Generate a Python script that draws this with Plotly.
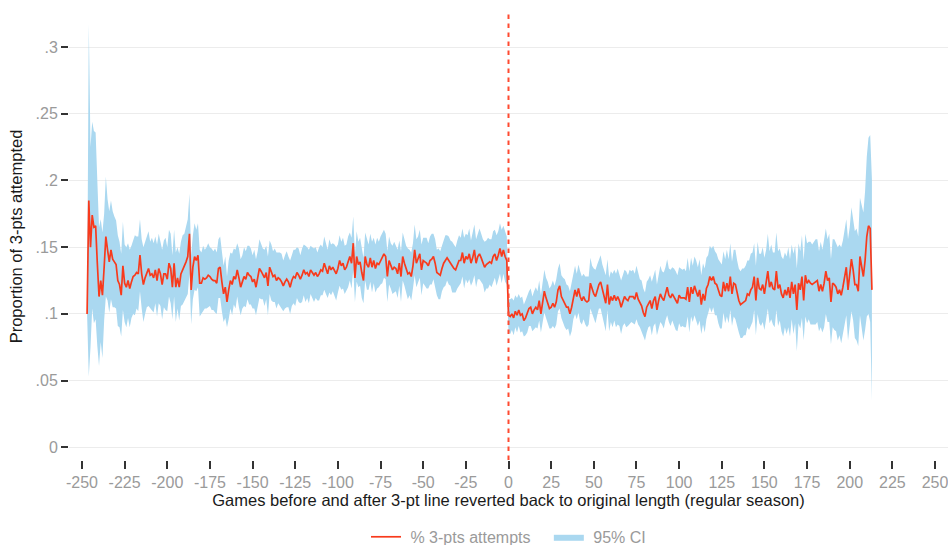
import plotly.graph_objects as go

# Proportion of 3-pt attempts, games before the reversion (-247 .. -1)
share_pre = [
    0.100, 0.185, 0.150, 0.174, 0.165, 0.166, 0.138, 0.113, 0.125, 0.114,
    0.135, 0.158, 0.148, 0.139, 0.148, 0.141, 0.139, 0.137, 0.125, 0.122,
    0.114, 0.136, 0.123, 0.120, 0.125, 0.119, 0.124, 0.128, 0.129, 0.131,
    0.130, 0.144, 0.130, 0.122, 0.127, 0.131, 0.134, 0.129, 0.130, 0.127,
    0.133, 0.125, 0.134, 0.130, 0.122, 0.130, 0.130, 0.126, 0.138, 0.134,
    0.120, 0.138, 0.120, 0.127, 0.120, 0.130, 0.133, 0.135, 0.139, 0.143,
    0.160, 0.118, 0.135, 0.143, 0.140, 0.144, 0.123, 0.123, 0.127, 0.126,
    0.127, 0.129, 0.128, 0.126, 0.125, 0.125, 0.123, 0.134, 0.135, 0.124,
    0.115, 0.120, 0.109, 0.118, 0.125, 0.122, 0.128, 0.126, 0.133, 0.127,
    0.120, 0.124, 0.128, 0.126, 0.131, 0.129, 0.128, 0.124, 0.126, 0.120,
    0.127, 0.134, 0.132, 0.130, 0.127, 0.131, 0.121, 0.135, 0.131, 0.128,
    0.129, 0.125, 0.127, 0.126, 0.124, 0.121, 0.124, 0.126, 0.124, 0.120,
    0.125, 0.128, 0.127, 0.131, 0.129, 0.126, 0.129, 0.133, 0.130, 0.131,
    0.128, 0.133, 0.131, 0.129, 0.131, 0.128, 0.130, 0.133, 0.132, 0.138,
    0.134, 0.130, 0.136, 0.133, 0.135, 0.133, 0.130, 0.134, 0.140, 0.136,
    0.138, 0.133, 0.135, 0.139, 0.143, 0.138, 0.153, 0.127, 0.143, 0.137,
    0.139, 0.131, 0.125, 0.143, 0.137, 0.135, 0.142, 0.135, 0.140, 0.134,
    0.138, 0.137, 0.140, 0.142, 0.145, 0.143, 0.128, 0.140, 0.136, 0.133,
    0.135, 0.134, 0.130, 0.138, 0.128, 0.143, 0.138, 0.133, 0.130, 0.131,
    0.128, 0.136, 0.148, 0.138, 0.141, 0.145, 0.133, 0.140, 0.139, 0.138,
    0.136, 0.140, 0.141, 0.143, 0.138, 0.131, 0.130, 0.129, 0.134, 0.138,
    0.140, 0.142, 0.140, 0.138, 0.135, 0.134, 0.133, 0.137, 0.140, 0.140,
    0.146, 0.138, 0.143, 0.141, 0.145, 0.138, 0.142, 0.148, 0.138, 0.143,
    0.145, 0.142, 0.139, 0.135, 0.137, 0.138, 0.139, 0.138, 0.143, 0.145,
    0.140, 0.144, 0.149, 0.143, 0.148, 0.143, 0.140,
]

# Games after the reversion (0 .. 213)
share_post = [
    0.099, 0.098, 0.100, 0.097, 0.102, 0.099, 0.103, 0.099, 0.100, 0.095,
    0.097, 0.100, 0.104, 0.105, 0.100, 0.103, 0.105, 0.103, 0.110, 0.100,
    0.110, 0.117, 0.112, 0.108, 0.104, 0.105, 0.108, 0.105, 0.109, 0.118,
    0.121, 0.113, 0.110, 0.108, 0.105, 0.105, 0.100, 0.105, 0.113, 0.118,
    0.113, 0.119, 0.113, 0.110, 0.113, 0.110, 0.109, 0.110, 0.123, 0.118,
    0.115, 0.113, 0.118, 0.122, 0.124, 0.118, 0.112, 0.108, 0.122, 0.107,
    0.113, 0.110, 0.114, 0.110, 0.113, 0.110, 0.105, 0.110, 0.113, 0.111,
    0.110, 0.113, 0.113, 0.113, 0.111, 0.116, 0.111, 0.108, 0.106, 0.101,
    0.098, 0.105, 0.108, 0.110, 0.104, 0.110, 0.113, 0.103, 0.110, 0.115,
    0.112, 0.110, 0.115, 0.120, 0.114, 0.112, 0.115, 0.113, 0.110, 0.108,
    0.114, 0.112, 0.112, 0.112, 0.111, 0.120, 0.109, 0.120, 0.115, 0.121,
    0.117, 0.113, 0.118, 0.107, 0.115, 0.110, 0.119, 0.122, 0.128, 0.125,
    0.128, 0.123, 0.122, 0.117, 0.114, 0.113, 0.124, 0.117, 0.123, 0.117,
    0.128, 0.115, 0.123, 0.122, 0.115, 0.110, 0.107, 0.108, 0.109, 0.110,
    0.115, 0.114, 0.118, 0.120, 0.128, 0.110, 0.127, 0.119, 0.118, 0.122,
    0.115, 0.122, 0.132, 0.120, 0.124, 0.119, 0.118, 0.132, 0.119, 0.122,
    0.115, 0.112, 0.118, 0.114, 0.120, 0.112, 0.124, 0.115, 0.122, 0.103,
    0.123, 0.118, 0.128, 0.110, 0.129, 0.123, 0.125, 0.123, 0.122, 0.123,
    0.124, 0.125, 0.117, 0.122, 0.117, 0.123, 0.132, 0.125, 0.127, 0.109,
    0.123, 0.122, 0.120, 0.115, 0.118, 0.114, 0.120, 0.128, 0.135, 0.118,
    0.128, 0.141, 0.133, 0.122, 0.122, 0.117, 0.143, 0.135, 0.128, 0.140,
    0.158, 0.166, 0.164, 0.118,
]

# Half-width of the 95% CI
ci_half_pre = [
    0.000, 0.132, 0.075, 0.070, 0.072, 0.070, 0.062, 0.052, 0.046, 0.047,
    0.040, 0.045, 0.038, 0.038, 0.037, 0.036, 0.034, 0.033, 0.034, 0.032,
    0.031, 0.033, 0.029, 0.030, 0.028, 0.029, 0.027, 0.028, 0.030, 0.027,
    0.028, 0.027, 0.026, 0.028, 0.027, 0.026, 0.028, 0.025, 0.027, 0.026,
    0.025, 0.027, 0.026, 0.024, 0.026, 0.025, 0.027, 0.024, 0.025, 0.026,
    0.024, 0.025, 0.026, 0.023, 0.025, 0.024, 0.026, 0.025, 0.027, 0.028,
    0.030, 0.026, 0.024, 0.025, 0.023, 0.024, 0.025, 0.023, 0.024, 0.022,
    0.023, 0.024, 0.022, 0.023, 0.022, 0.024, 0.023, 0.022, 0.023, 0.022,
    0.021, 0.023, 0.019, 0.022, 0.021, 0.023, 0.021, 0.022, 0.020, 0.022,
    0.021, 0.020, 0.022, 0.021, 0.020, 0.022, 0.021, 0.020, 0.022, 0.021,
    0.020, 0.022, 0.021, 0.019, 0.021, 0.020, 0.022, 0.020, 0.021, 0.019,
    0.020, 0.021, 0.019, 0.020, 0.021, 0.019, 0.020, 0.021, 0.019, 0.020,
    0.019, 0.020, 0.021, 0.019, 0.020, 0.018, 0.020, 0.019, 0.021, 0.019,
    0.020, 0.018, 0.019, 0.020, 0.019, 0.018, 0.020, 0.019, 0.018, 0.020,
    0.019, 0.018, 0.020, 0.019, 0.018, 0.019, 0.020, 0.018, 0.019, 0.018,
    0.019, 0.018, 0.017, 0.019, 0.018, 0.019, 0.020, 0.018, 0.019, 0.017,
    0.018, 0.019, 0.017, 0.018, 0.019, 0.017, 0.018, 0.019, 0.017, 0.018,
    0.019, 0.017, 0.018, 0.019, 0.018, 0.017, 0.019, 0.018, 0.017, 0.018,
    0.019, 0.017, 0.018, 0.017, 0.019, 0.018, 0.017, 0.018, 0.019, 0.017,
    0.018, 0.017, 0.019, 0.018, 0.017, 0.018, 0.019, 0.017, 0.018, 0.019,
    0.017, 0.018, 0.019, 0.017, 0.018, 0.017, 0.019, 0.018, 0.017, 0.018,
    0.019, 0.017, 0.018, 0.017, 0.019, 0.018, 0.017, 0.018, 0.019, 0.017,
    0.018, 0.019, 0.017, 0.018, 0.019, 0.017, 0.018, 0.019, 0.018, 0.017,
    0.019, 0.018, 0.017, 0.019, 0.018, 0.019, 0.017, 0.018, 0.019, 0.018,
    0.019, 0.018, 0.019, 0.020, 0.018, 0.019, 0.018,
]

ci_half_post = [
    0.012, 0.013, 0.012, 0.013, 0.012, 0.013, 0.012, 0.013, 0.013, 0.012,
    0.013, 0.014, 0.013, 0.014, 0.013, 0.014, 0.015, 0.014, 0.015, 0.014,
    0.015, 0.016, 0.015, 0.016, 0.015, 0.016, 0.017, 0.016, 0.017, 0.016,
    0.017, 0.016, 0.017, 0.018, 0.017, 0.016, 0.017, 0.018, 0.017, 0.018,
    0.017, 0.018, 0.019, 0.018, 0.017, 0.018, 0.019, 0.018, 0.019, 0.018,
    0.019, 0.020, 0.019, 0.018, 0.020, 0.019, 0.020, 0.021, 0.019, 0.020,
    0.019, 0.020, 0.019, 0.020, 0.021, 0.019, 0.020, 0.019, 0.020, 0.021,
    0.019, 0.020, 0.019, 0.020, 0.019, 0.020, 0.019, 0.018, 0.019, 0.018,
    0.018, 0.019, 0.018, 0.019, 0.020, 0.019, 0.020, 0.019, 0.020, 0.021,
    0.020, 0.021, 0.020, 0.021, 0.020, 0.021, 0.020, 0.021, 0.022, 0.021,
    0.021, 0.022, 0.021, 0.022, 0.021, 0.022, 0.023, 0.022, 0.021, 0.022,
    0.023, 0.022, 0.023, 0.022, 0.023, 0.024, 0.023, 0.022, 0.023, 0.024,
    0.023, 0.024, 0.023, 0.024, 0.025, 0.024, 0.023, 0.024, 0.025, 0.024,
    0.025, 0.024, 0.025, 0.026, 0.025, 0.024, 0.025, 0.026, 0.025, 0.026,
    0.025, 0.026, 0.027, 0.026, 0.025, 0.026, 0.027, 0.026, 0.027, 0.028,
    0.027, 0.026, 0.028, 0.027, 0.028, 0.027, 0.028, 0.029, 0.028, 0.027,
    0.028, 0.029, 0.028, 0.029, 0.030, 0.029, 0.028, 0.030, 0.029, 0.031,
    0.030, 0.029, 0.031, 0.030, 0.031, 0.030, 0.029, 0.031, 0.030, 0.031,
    0.032, 0.031, 0.030, 0.032, 0.031, 0.033, 0.032, 0.031, 0.033, 0.032,
    0.033, 0.034, 0.033, 0.035, 0.034, 0.036, 0.035, 0.037, 0.036, 0.038,
    0.037, 0.039, 0.038, 0.040, 0.042, 0.041, 0.044, 0.046, 0.048, 0.052,
    0.060, 0.066, 0.070, 0.083,
]

x_tick_vals = [-250, -225, -200, -175, -150, -125, -100, -75, -50, -25, 0,
               25, 50, 75, 100, 125, 150, 175, 200, 225, 250]
x_tick_text = ["-250", "-225", "-200", "-175", "-150", "-125", "-100", "-75",
               "-50", "-25", "0", "25", "50", "75", "100", "125", "150",
               "175", "200", "225", "250"]
y_tick_vals = [0, 0.05, 0.10, 0.15, 0.20, 0.25, 0.30]
y_tick_text = ["0", ".05", ".1", ".15", ".2", ".25", ".3"]

games_pre = list(range(-len(share_pre), 0))
games_post = list(range(0, len(share_post)))
games = games_pre + games_post
share = share_pre + share_post
half = ci_half_pre + ci_half_post
lower = [s - h for s, h in zip(share, half)]
upper = [s + h for s, h in zip(share, half)]

FONT = "Liberation Sans, Arial, sans-serif"
RED = "#f83a1c"
CI_BLUE = "rgb(170,216,240)"
NB = "\u00a0"

fig = go.Figure()
fig.add_trace(go.Scatter(x=games, y=lower, mode="lines", line=dict(width=0),
                         showlegend=False, hoverinfo="skip"))
fig.add_trace(go.Scatter(x=games, y=upper, mode="lines", line=dict(width=0),
                         fill="tonexty", fillcolor=CI_BLUE,
                         name=NB + "95% CI"))
fig.add_trace(go.Scatter(x=games, y=share, mode="lines",
                         line=dict(color=RED, width=1.7),
                         name=NB + "% 3-pts attempts" + NB * 3))

fig.add_shape(type="line", xref="x", yref="paper", x0=0, x1=0, y0=0, y1=1,
              line=dict(color="#ff4a30", width=2, dash="4.5px,4.5px"))

fig.update_layout(
    width=948, height=545,
    margin=dict(l=69, r=0, t=13, b=85, autoexpand=False),
    paper_bgcolor="white", plot_bgcolor="white",
    font=dict(family=FONT),
    showlegend=True,
    legend=dict(orientation="h", x=0.5, xanchor="center", y=-0.172,
                yanchor="middle", traceorder="reversed",
                font=dict(size=16, color="#9a9a9a"),
                itemwidth=30, bgcolor="rgba(0,0,0,0)"),
    xaxis=dict(range=[-257.6, 257.6], tickmode="array", tickvals=x_tick_vals,
               ticktext=x_tick_text, automargin=False,
               ticklabeloverflow="allow",
               ticks="outside", ticklen=8, tickwidth=1.5, tickcolor="#333",
               showgrid=False, zeroline=False, showline=False,
               tickfont=dict(size=16, color="#9a9a9a"),
               title=dict(text="Games before and after 3-pt line reverted back to original length (regular season)",
                          font=dict(size=16.5, color="#1a1a1a"), standoff=2)),
    yaxis=dict(range=[-0.0095, 0.3255], tickmode="array", tickvals=y_tick_vals,
               ticktext=y_tick_text, automargin=False,
               ticks="outside", ticklen=7, tickwidth=1.5,
               tickcolor="#333", showgrid=True, gridcolor="#ececec", gridwidth=1,
               zeroline=False, showline=False,
               tickfont=dict(size=16, color="#9a9a9a"),
               title=dict(text="Proportion of 3-pts attempted",
                          font=dict(size=16.5, color="#1a1a1a"), standoff=8)),
)

fig.write_html(
    "out.html",
    config={"displayModeBar": False},
    post_script="document.body.style.margin='0';document.body.style.overflow='hidden';",
)
